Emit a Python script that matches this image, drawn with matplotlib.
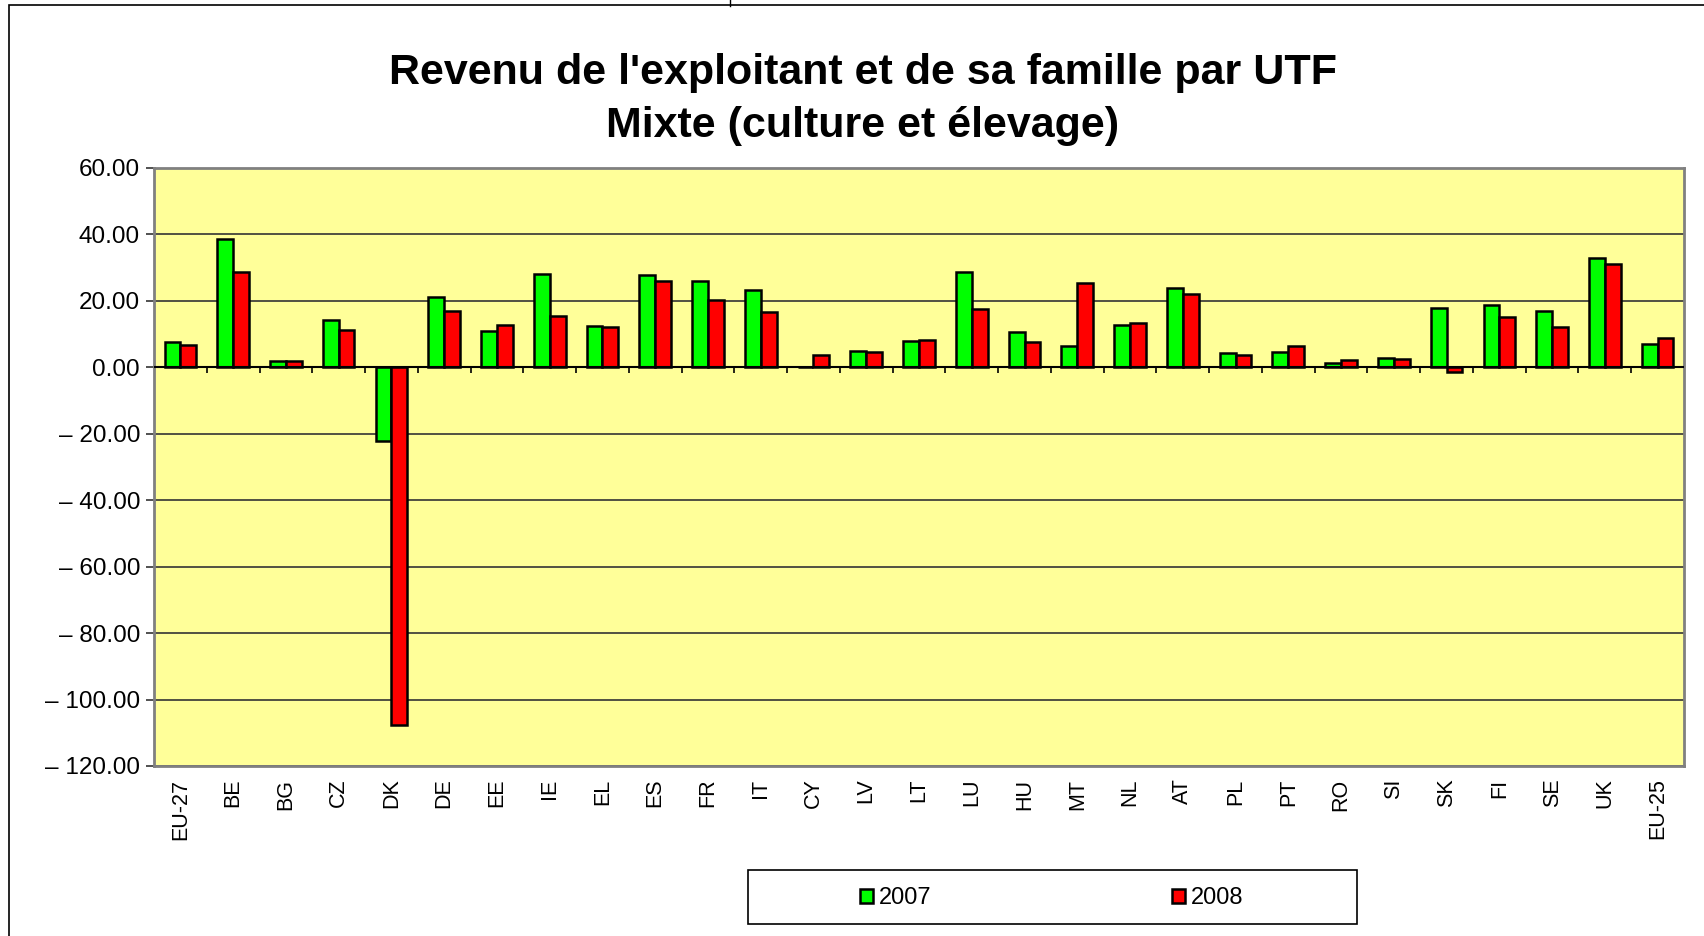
import numpy as np
import matplotlib
matplotlib.use("Agg")
from matplotlib import pyplot as plt
from matplotlib.patches import Rectangle
from matplotlib.ticker import FuncFormatter

# data
countries = ['EU-27', 'BE', 'BG', 'CZ', 'DK', 'DE', 'EE', 'IE', 'EL', 'ES',
             'FR', 'IT', 'CY', 'LV', 'LT', 'LU', 'HU', 'MT', 'NL', 'AT',
             'PL', 'PT', 'RO', 'SI', 'SK', 'FI', 'SE', 'UK', 'EU-25']
y2007 = [7.7, 38.6, 1.8, 14.1, -22.3, 21.3, 10.9, 28.0, 12.3, 27.8,
         26.0, 23.4, 0.0, 4.9, 8.0, 28.8, 10.7, 6.5, 12.7, 23.8,
         4.2, 4.7, 1.2, 2.9, 17.9, 18.9, 17.0, 32.9, 6.9]
y2008 = [6.8, 28.6, 1.8, 11.3, -107.6, 17.0, 12.7, 15.5, 12.1, 26.0,
         20.2, 16.6, 3.6, 4.7, 8.2, 17.7, 7.7, 25.4, 13.4, 22.0,
         3.6, 6.5, 2.1, 2.5, -1.3, 15.0, 12.1, 31.2, 8.9]
series = ['2007', '2008']

plt.rcParams['font.family'] = ['Liberation Sans', 'DejaVu Sans']

W, H = 1704, 936
fig = plt.figure(figsize=(W / 100, H / 100), dpi=100)
ax = fig.add_axes([154 / W, 1 - 766 / H, (1684 - 154) / W, (766 - 168) / H])
ax.set_facecolor('#FFFF99')

x = np.arange(len(countries))
bw = 0.3
ax.bar(x - bw / 2, y2007, bw, color='#00FF00', edgecolor='black', linewidth=1.8, label=series[0], zorder=3)
ax.bar(x + bw / 2, y2008, bw, color='#FF0000', edgecolor='black', linewidth=1.8, label=series[1], zorder=3)

ax.set_xlim(-0.5, len(countries) - 0.5)
ax.set_ylim(-120, 60)
ax.set_yticks(np.arange(-120, 61, 20))
ax.yaxis.set_major_formatter(FuncFormatter(lambda v, p: f"{v:.2f}" if v >= 0 else f"\u2013 {abs(v):.2f}"))
ax.grid(axis='y', color='#333333', linewidth=1.2, zorder=1)
ax.tick_params(axis='y', labelsize=17.5, length=6, width=1.2, color='#333333', pad=4)

ax.set_xticks(x)
ax.set_xticklabels(countries, rotation=90, fontsize=15.5)
ax.tick_params(axis='x', length=0, pad=9)

# category axis at zero with its tick marks
ax.axhline(0, color='black', linewidth=1.5, zorder=4)
ax.vlines(np.arange(0.5, len(countries) - 0.5), -1.8, 0, color='black', linewidth=1.2, zorder=4)

for s in ax.spines.values():
    s.set_color('#808080')
    s.set_linewidth(2)

fig.text(863 / W, 1 - 73 / H, "Revenu de l'exploitant et de sa famille par UTF",
         ha='center', va='center', fontsize=31, fontweight='bold')
fig.text(863 / W, 1 - 126 / H, "Mixte (culture et élevage)",
         ha='center', va='center', fontsize=31, fontweight='bold')

# legend box
fig.patches.append(Rectangle((748 / W, 1 - 924 / H), (1357 - 748) / W, (924 - 870) / H,
                             transform=fig.transFigure, fill=False, edgecolor='black', linewidth=1.2))
fig.legend(loc='center', bbox_to_anchor=(1052 / W, 1 - 898 / H), ncol=2, frameon=False,
           fontsize=17, handlelength=0.55, handleheight=0.55, handletextpad=0.25, columnspacing=10.2)

# outer chart frame
fig.patches.append(Rectangle((9 / W, -0.1), 1.2, 1.1 - 5.5 / H,
                             transform=fig.transFigure, fill=False, edgecolor='black', linewidth=1.2))
fig.add_artist(plt.Line2D([730 / W, 730 / W], [1 - 5.5 / H, 1], color='black', linewidth=1))

fig.savefig('out.png', dpi=100)
